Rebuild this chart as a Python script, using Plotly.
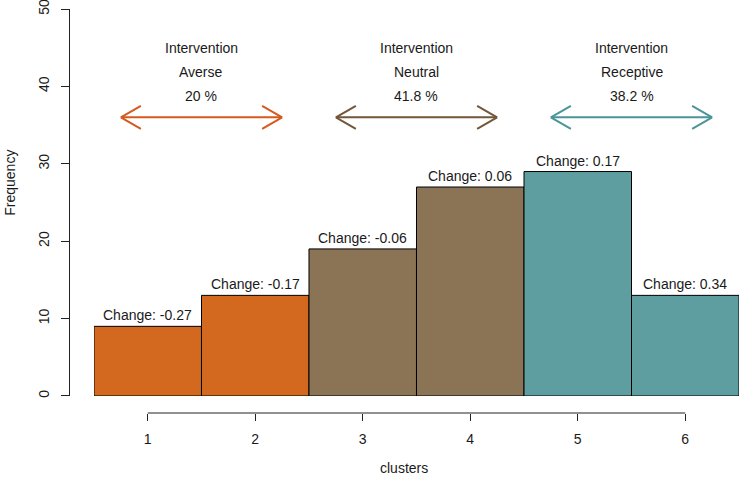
import plotly.graph_objects as go

# ---- data ----
clusters = [1, 2, 3, 4, 5, 6]
frequency = [9, 13, 19, 27, 29, 13]
change_labels = ["-0.27", "-0.17", "-0.06", "0.06", "0.17", "0.34"]
group_names = ["Averse", "Neutral", "Receptive"]
group_pct = ["20 %", "41.8 %", "38.2 %"]
group_clusters = [[1, 2], [3, 4], [5, 6]]
y_ticks = [0, 10, 20, 30, 40, 50]

# ---- styles ----
bar_colors = ["#D2691E", "#D2691E", "#8B7355", "#8B7355", "#5F9EA0", "#5F9EA0"]
arrow_colors = ["#D45A1E", "#725739", "#4A9598"]
FONT = "Liberation Sans, Arial, sans-serif"
TXT = "#1a1a1a"

fig = go.Figure()
fig.add_trace(go.Bar(
    x=clusters, y=frequency, width=1,
    marker=dict(color=bar_colors, line=dict(color="black", width=1)),
    hoverinfo="skip",
))

annotations = []
shapes = []

# bar labels
for c, f, lab in zip(clusters, frequency, change_labels):
    annotations.append(dict(
        x=c, y=f, xref="x", yref="y", text=f"Change: {lab}",
        showarrow=False, yanchor="bottom", yshift=1,
        font=dict(family=FONT, size=14, color=TXT),
    ))

# group arrows and labels
arrow_y = 36
half = 0.75
for name, pct, cl, col in zip(group_names, group_pct, group_clusters, arrow_colors):
    cx = sum(cl) / len(cl)
    x0, x1 = cx - half, cx + half
    for txt, yy in [("Intervention", 45), (name, 41.9), (pct, 38.8)]:
        annotations.append(dict(
            x=cx, y=yy, xref="x", yref="y", text=txt, showarrow=False,
            font=dict(family=FONT, size=14, color=TXT),
        ))
    shapes.append(dict(type="line", xref="x", yref="y", x0=x0, x1=x1,
                       y0=arrow_y, y1=arrow_y, line=dict(color=col, width=2)))
    for tip, sgn in [(x0, 1), (x1, -1)]:
        for dy in (11.5, -11.5):
            shapes.append(dict(
                type="line", xref="x", yref="y",
                xsizemode="pixel", xanchor=tip, x0=0, x1=20 * sgn,
                ysizemode="pixel", yanchor=arrow_y, y0=0, y1=dy,
                line=dict(color=col, width=2),
            ))

# x axis line from first to last tick
shapes.append(dict(type="line", xref="x", yref="paper", x0=clusters[0], x1=clusters[-1],
                   y0=0, y1=0, line=dict(color="#222", width=1)))

# axis titles
annotations.append(dict(x=0.5, xref="paper", y=-0.136, yref="paper",
                        text="clusters", showarrow=False, yanchor="middle",
                        xanchor="center",
                        font=dict(family=FONT, size=14, color=TXT)))
annotations.append(dict(x=-0.088, xref="paper", y=0.57, yref="paper",
                        text="Frequency", showarrow=False, textangle=-90,
                        xanchor="center", yanchor="middle",
                        font=dict(family=FONT, size=14, color=TXT)))

fig.update_layout(
    width=740, height=484,
    margin=dict(l=69, r=1, t=9, b=71, autoexpand=False),
    plot_bgcolor="white", paper_bgcolor="white",
    showlegend=False, bargap=0,
    annotations=annotations, shapes=shapes,
    xaxis=dict(
        domain=[0.0373, 1], range=[0.5, 6.5], anchor="free", position=0,
        tickvals=clusters, ticktext=[str(c) for c in clusters],
        ticks="outside", ticklen=7, tickcolor="#222", tickwidth=1,
        showline=False, showgrid=False, zeroline=False,
        tickfont=dict(family=FONT, size=14, color=TXT),
        ticklabelstandoff=6, automargin=False, ticklabeloverflow="allow",
    ),
    yaxis=dict(
        domain=[0.0421, 1], range=[0, 50], anchor="free", position=0,
        tickvals=y_ticks, ticks="outside", ticklen=8, tickcolor="#222",
        showline=True, linecolor="#222", linewidth=1,
        showgrid=False, zeroline=False, tickangle=-90,
        tickfont=dict(family=FONT, size=14, color=TXT),
        ticklabelstandoff=6, automargin=False, ticklabeloverflow="allow",
    ),
)

fig.write_html(
    "out.html",
    config={"displayModeBar": False, "staticPlot": True},
    post_script="document.body.style.margin='0';document.body.style.overflow='hidden';",
)
